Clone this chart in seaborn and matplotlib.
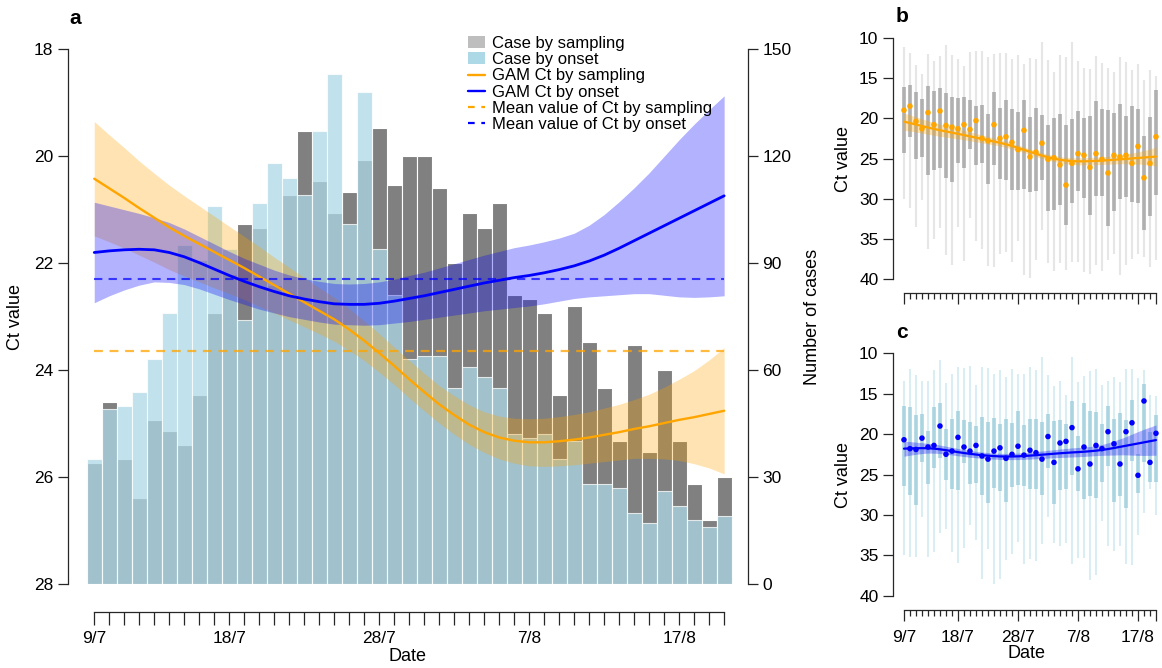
import matplotlib
matplotlib.use("Agg")
import matplotlib.pyplot as plt
from matplotlib.patches import Patch
from matplotlib.lines import Line2D
import seaborn as sns

# ---------------- data ----------------
days = list(range(43))                      # 9 Jul .. 20 Aug
date_ticks = [0, 9, 19, 29, 39]
date_labels = ["9/7", "18/7", "28/7", "7/8", "17/8"]

cases_sampling = [34, 51, 35, 24, 46, 43, 39, 53, 76, 87, 101, 100, 84, 109, 127,
                  113, 104, 110, 119, 128, 112, 120, 120, 111, 90, 104, 100, 107,
                  81, 80, 76, 53, 78, 68, 55, 40, 67, 37, 60, 40, 28, 18, 30]
cases_onset = [35, 49, 50, 54, 63, 76, 95, 91, 106, 94, 74, 107, 118, 114, 109,
               127, 143, 101, 138, 94, 81, 63, 64, 64, 55, 61, 58, 55, 42, 41,
               42, 35, 40, 28, 28, 27, 20, 17, 26, 22, 18, 16, 19]

gam_sampling = [20.42, 20.60, 20.78, 20.97, 21.15, 21.33, 21.49, 21.64, 21.79, 21.94,
                22.09, 22.25, 22.41, 22.57, 22.73, 22.89, 23.05, 23.24, 23.45, 23.68,
                23.92, 24.17, 24.41, 24.64, 24.84, 25.02, 25.16, 25.26, 25.32, 25.35,
                25.35, 25.33, 25.30, 25.26, 25.21, 25.16, 25.10, 25.05, 24.99, 24.93,
                24.88, 24.82, 24.76]
gam_sampling_ci = [1.07, 1.00, 0.94, 0.88, 0.83, 0.79, 0.75, 0.71, 0.67, 0.63,
                   0.59, 0.56, 0.52, 0.49, 0.46, 0.43, 0.41, 0.39, 0.37, 0.36,
                   0.35, 0.35, 0.35, 0.35, 0.36, 0.37, 0.38, 0.40, 0.42, 0.44,
                   0.45, 0.46, 0.47, 0.48, 0.50, 0.52, 0.55, 0.60, 0.67, 0.76,
                   0.87, 1.01, 1.18]
gam_onset = [21.80, 21.77, 21.75, 21.74, 21.75, 21.80, 21.88, 21.99, 22.11, 22.23,
             22.34, 22.44, 22.53, 22.61, 22.67, 22.72, 22.76, 22.77, 22.77, 22.75,
             22.71, 22.66, 22.61, 22.55, 22.49, 22.43, 22.37, 22.32, 22.27, 22.23,
             22.18, 22.12, 22.05, 21.96, 21.85, 21.72, 21.58, 21.44, 21.30, 21.16,
             21.02, 20.88, 20.74]
gam_onset_ci = [0.94, 0.84, 0.75, 0.67, 0.60, 0.56, 0.52, 0.49, 0.47, 0.45,
                0.43, 0.42, 0.40, 0.39, 0.38, 0.38, 0.38, 0.38, 0.39, 0.40,
                0.41, 0.43, 0.44, 0.46, 0.48, 0.50, 0.52, 0.54, 0.56, 0.57,
                0.58, 0.59, 0.61, 0.67, 0.76, 0.87, 0.99, 1.13, 1.30, 1.47,
                1.62, 1.75, 1.87]
mean_ct_sampling = 23.65
mean_ct_onset = 22.29

# daily Ct summaries by sampling date
ct_s_mean = [19.0, 18.5, 20.4, 21.3, 19.3, 20.8, 19.1, 20.9, 21.1, 21.3, 20.8, 21.4,
             20.3, 22.5, 22.8, 20.8, 22.5, 22.3, 23.0, 23.9, 21.5, 24.8, 24.2, 23.1,
             25.1, 24.9, 25.8, 28.3, 25.6, 24.4, 24.6, 26.1, 24.4, 25.1, 26.8, 24.6,
             24.8, 24.6, 25.6, 23.5, 27.4, 25.6, 22.3]
ct_s_q1 = [16.1, 15.9, 16.8, 17.6, 16.0, 16.6, 16.3, 16.9, 17.4, 17.5, 17.4, 17.7,
           18.5, 18.3, 19.5, 16.7, 18.7, 17.7, 18.9, 19.2, 17.7, 19.9, 18.7, 19.6,
           20.9, 20.0, 19.5, 20.8, 20.1, 19.1, 20.0, 19.7, 17.9, 18.8, 19.0, 19.3,
           18.2, 19.7, 18.5, 18.8, 22.2, 19.8, 16.5]
ct_s_q3 = [24.3, 22.3, 25.0, 24.8, 27.1, 26.4, 26.2, 27.4, 27.9, 25.5, 26.2, 23.8,
           25.8, 25.5, 28.2, 25.8, 27.5, 27.7, 28.9, 28.9, 28.8, 29.1, 29.0, 27.7,
           31.5, 31.4, 30.8, 33.3, 30.5, 29.0, 29.9, 32.0, 29.7, 29.6, 33.4, 31.5,
           30.0, 29.8, 30.4, 30.5, 33.9, 32.2, 29.5]
ct_s_min = [11.1, 11.9, 13.4, 14.5, 12.0, 12.9, 12.3, 10.9, 12.1, 12.6, 13.5, 11.8,
            11.7, 11.6, 12.4, 12.0, 11.9, 11.9, 12.6, 12.1, 13.3, 12.5, 12.7, 10.5,
            12.8, 14.2, 12.2, 12.4, 10.5, 12.9, 13.8, 13.9, 12.3, 13.1, 13.8, 14.2,
            12.4, 13.0, 14.0, 13.3, 15.3, 14.0, 14.8]
ct_s_max = [30.0, 31.1, 33.5, 30.2, 36.2, 35.0, 33.6, 37.0, 38.2, 33.5, 37.7, 32.4,
            35.2, 36.2, 38.3, 38.5, 36.8, 36.6, 37.9, 35.2, 39.5, 39.8, 37.6, 33.9,
            38.0, 39.0, 38.0, 38.9, 37.8, 37.9, 39.1, 39.3, 38.2, 39.0, 37.6, 36.8,
            39.5, 38.2, 37.5, 36.9, 37.2, 38.5, 37.6]

# daily Ct summaries by onset date
ct_o_mean = [20.7, 21.8, 21.9, 20.5, 21.6, 21.4, 19.0, 22.5, 22.1, 20.4, 21.6, 22.1,
             21.4, 22.7, 23.1, 22.1, 21.7, 23.0, 22.5, 21.5, 22.6, 22.0, 22.3, 23.1,
             20.3, 23.5, 21.1, 20.9, 19.2, 24.3, 21.6, 23.7, 21.4, 21.8, 19.7, 21.2,
             23.7, 19.7, 18.6, 25.1, 15.9, 23.5, 19.9]
ct_o_q1 = [16.5, 16.7, 17.6, 17.5, 19.6, 16.6, 16.2, 19.4, 18.1, 17.2, 18.2, 18.5,
           19.0, 17.9, 18.5, 18.0, 18.7, 18.1, 18.6, 17.2, 18.9, 18.1, 18.1, 18.5,
           17.5, 18.4, 18.3, 18.8, 15.9, 20.2, 16.1, 17.2, 17.3, 18.7, 16.5, 18.1,
           17.4, 18.3, 15.8, 22.5, 13.8, 19.7, 17.6]
ct_o_q3 = [26.4, 27.5, 28.8, 23.4, 26.2, 24.2, 23.0, 25.7, 26.8, 26.9, 23.6, 26.2,
           26.1, 27.5, 28.5, 26.7, 27.0, 28.4, 26.5, 26.3, 26.4, 26.8, 26.8, 27.5,
           24.2, 28.6, 26.9, 26.8, 25.1, 27.1, 28.0, 27.7, 27.9, 25.9, 23.9, 28.4,
           27.7, 29.2, 23.3, 27.3, 23.4, 25.9, 25.9]
ct_o_min = [13.4, 11.9, 12.7, 13.4, 13.4, 12.1, 10.8, 13.7, 12.6, 11.7, 11.8, 11.6,
            13.9, 11.7, 11.8, 12.6, 12.1, 12.9, 11.9, 12.5, 12.6, 11.7, 12.1, 10.4,
            12.7, 14.1, 13.4, 15.2, 10.5, 13.6, 12.8, 12.2, 11.9, 13.9, 13.4, 12.9,
            13.6, 11.9, 11.9, 13.1, 12.1, 15.1, 15.3]
ct_o_max = [35.0, 35.2, 35.2, 30.2, 35.2, 34.6, 32.3, 31.7, 34.6, 36.0, 34.1, 31.3,
            33.1, 37.9, 34.2, 38.5, 37.9, 35.6, 34.8, 33.3, 36.1, 35.4, 35.7, 33.6,
            30.3, 33.5, 33.9, 33.5, 36.1, 35.3, 35.3, 38.1, 37.4, 30.8, 33.8, 34.5,
            33.9, 36.1, 36.2, 32.5, 29.8, 26.8, 30.0]

# ---------------- style ----------------
sns.set_theme(style="ticks")
plt.rcParams["font.family"] = ["Liberation Sans", "DejaVu Sans"]
plt.rcParams["axes.linewidth"] = 0.9
plt.rcParams["xtick.major.width"] = 0.9
plt.rcParams["ytick.major.width"] = 0.9
plt.rcParams["xtick.minor.width"] = 0.9
plt.rcParams["text.color"] = "black"
plt.rcParams["xtick.labelcolor"] = "black"
plt.rcParams["ytick.labelcolor"] = "black"
plt.rcParams["axes.labelcolor"] = "black"
FS = 12.5      # tick labels
LFS = 13       # axis titles

W, H = 1162, 668
fig = plt.figure(figsize=(W / 100, H / 100), dpi=100)


def rect(x0, y0, x1, y1):
    return [x0 / W, 1 - y1 / H, (x1 - x0) / W, (y1 - y0) / H]


ORANGE = "#FFA500"
BLUE = "#0000FF"

# ---------------- panel a ----------------
ax_n = fig.add_axes(rect(68, 49.3, 748, 584))
sns.barplot(x=days, y=cases_sampling, color="#808080", saturation=1, width=1,
            edgecolor="white", linewidth=0.8, errorbar=None, ax=ax_n, zorder=1)
sns.barplot(x=days, y=cases_onset, color="#ADD8E6", saturation=1, width=1, alpha=0.75,
            edgecolor="white", linewidth=0.8, errorbar=None, ax=ax_n, zorder=2)

ax_ct = ax_n.twinx()

# case counts on the right-hand axis, Ct values on the left-hand axis
ax_n.set_ylim(0, 150)
ax_n.set_yticks(range(0, 151, 30))
ax_n.yaxis.tick_right()
ax_n.yaxis.set_label_position("right")
ax_n.set_ylabel("Number of cases", fontsize=LFS, labelpad=9)
for s in ("top", "left"):
    ax_n.spines[s].set_visible(False)
ax_n.spines["right"].set_visible(True)
ax_n.spines["bottom"].set_position(("outward", 20))
ax_n.spines["bottom"].set_bounds(0, 42)

ax_ct.yaxis.tick_left()
ax_ct.yaxis.set_label_position("left")
for s in ("top", "right", "bottom"):
    ax_ct.spines[s].set_visible(False)
ax_ct.spines["left"].set_visible(True)

lo_s = [m - c for m, c in zip(gam_sampling, gam_sampling_ci)]
hi_s = [m + c for m, c in zip(gam_sampling, gam_sampling_ci)]
lo_o = [m - c for m, c in zip(gam_onset, gam_onset_ci)]
hi_o = [m + c for m, c in zip(gam_onset, gam_onset_ci)]

ax_ct.fill_between(days, lo_s, hi_s, color=ORANGE, alpha=0.3, lw=0)
sns.lineplot(x=days, y=gam_sampling, color=ORANGE, lw=1.7, ax=ax_ct)
ax_ct.hlines(mean_ct_sampling, days[0], days[-1], colors=ORANGE, alpha=0.75,
             lw=1.6, linestyles=(0, (4, 3)))
ax_ct.fill_between(days, lo_o, hi_o, color=BLUE, alpha=0.3, lw=0)
sns.lineplot(x=days, y=gam_onset, color=BLUE, lw=2.0, ax=ax_ct)
ax_ct.hlines(mean_ct_onset, days[0], days[-1], colors=BLUE, alpha=0.7,
             lw=1.5, linestyles=(0, (4, 3)))
ax_ct.set_ylim(28, 18)
ax_ct.set_yticks(range(18, 29, 2))
ax_ct.set_ylabel("Ct value", fontsize=LFS, labelpad=7)

ax_n.set_xlim(-1.75, 43.59)
ax_n.set_xticks(date_ticks, date_labels)
ax_n.set_xticks(days, minor=True)
ax_n.tick_params(axis="x", which="both", length=9, pad=5, labelsize=FS)
ax_n.tick_params(axis="y", length=7, labelsize=FS)
ax_ct.tick_params(axis="y", length=7, labelsize=FS)
ax_n.set_xlabel("Date", fontsize=LFS, labelpad=1)

handles = [
    Patch(facecolor="#BEBEBE", edgecolor="none", label="Case by sampling"),
    Patch(facecolor="#ADD8E6", edgecolor="none", label="Case by onset"),
    Line2D([], [], color=ORANGE, lw=1.7, label="GAM Ct by sampling"),
    Line2D([], [], color=BLUE, lw=1.7, label="GAM Ct by onset"),
    Line2D([], [], color=ORANGE, lw=1.6, ls=(0, (3, 3)), label="Mean value of Ct by sampling"),
    Line2D([], [], color=BLUE, lw=1.6, ls=(0, (3, 3)), label="Mean value of Ct by onset"),
]
fig.legend(handles=handles, loc="upper left", bbox_to_anchor=(468 / W, 1 - 36 / H),
           frameon=False, fontsize=12, handlelength=1.0, handleheight=0.7,
           handletextpad=0.45, labelspacing=0.07, borderpad=0, borderaxespad=0)

fig.text(75 / W, 1 - 18 / H, "a", fontsize=15, fontweight="bold", ha="center", va="center")


# ---------------- panels b and c ----------------
def ct_panel(r, mean, q1, q3, vmin, vmax, gam, lo, hi, col_out, col_in, col_pt, col_line,
             with_labels):
    ax = fig.add_axes(r)
    ax.vlines(days, vmin, vmax, colors=col_out, lw=1.5, zorder=1)
    ax.vlines(days, q1, q3, colors=col_in, lw=2.6, zorder=2)
    ax.fill_between(days, lo, hi, color=col_line, alpha=0.3, lw=0, zorder=3)
    sns.lineplot(x=days, y=gam, color=col_line, lw=1.6, ax=ax, zorder=4)
    sns.scatterplot(x=days, y=mean, color=col_pt, s=16, edgecolor="none", ax=ax, zorder=5)
    ax.set_ylim(40, 10)
    ax.set_yticks(range(10, 41, 5))
    ax.set_xlim(-1.83, 42.67)
    ax.set_xticks(date_ticks + [42])
    ax.set_xticks(days, minor=True)
    if with_labels:
        ax.set_xticklabels(date_labels + [""])
        ax.set_xlabel("Date", fontsize=LFS, labelpad=0)
    else:
        ax.set_xticklabels([])
    for s in ("top", "right"):
        ax.spines[s].set_visible(False)
    ax.spines["bottom"].set_position(("outward", 10))
    ax.spines["bottom"].set_bounds(0, 42)
    ax.tick_params(axis="x", which="major", length=8, pad=7, labelsize=FS)
    ax.tick_params(axis="x", which="minor", length=4)
    ax.tick_params(axis="y", length=7, labelsize=FS)
    ax.set_ylabel("Ct value", fontsize=LFS, labelpad=5)
    return ax


ax_b = ct_panel(rect(893, 37.7, 1160, 279.3), ct_s_mean, ct_s_q1, ct_s_q3, ct_s_min, ct_s_max,
                gam_sampling, lo_s, hi_s, "#E6E6E6", "#B0B0B0", ORANGE, ORANGE, False)
ax_c = ct_panel(rect(893, 353.3, 1160, 595.7), ct_o_mean, ct_o_q1, ct_o_q3, ct_o_min, ct_o_max,
                gam_onset, lo_o, hi_o, "#DAEDF3", "#ABD4E1", BLUE, BLUE, True)

fig.text(902 / W, 1 - 16 / H, "b", fontsize=15, fontweight="bold", ha="center", va="center")
fig.text(902 / W, 1 - 333 / H, "c", fontsize=15, fontweight="bold", ha="center", va="center")

fig.savefig("out.png", dpi=100)
